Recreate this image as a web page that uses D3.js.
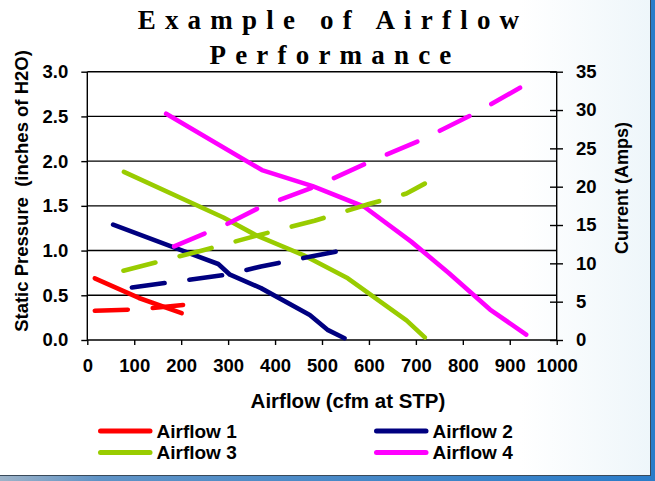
<!DOCTYPE html>
<html>
<head>
<meta charset="utf-8">
<script src="https://cdn.jsdelivr.net/npm/d3@7"></script>
<style>
html,body{margin:0;padding:0;background:#fff;}
svg{display:block;}
text{font-family:"Liberation Sans",Arial,sans-serif;font-weight:bold;fill:#000;}
</style>
</head>
<body>
<script>
// ---- data (cfm, value) ----
const seriesNames = ["Airflow 1", "Airflow 2", "Airflow 3", "Airflow 4"];
const seriesColors = ["#FF0000", "#000080", "#99CC00", "#FF00FF"];
// Static pressure (inches of H2O) vs airflow (cfm)
const pressure1 = [[16,0.69],[110,0.47],[201,0.30]];
const pressure2 = [[55,1.29],[197,1.01],[279,0.85],[304,0.73],[370,0.58],[474,0.28],[513,0.11],[548,0.02]];
const pressure3 = [[78,1.88],[290,1.37],[360,1.17],[460,0.95],[555,0.69],[680,0.22],[719,0.03]];
const pressure4 = [[168,2.53],[372,1.90],[480,1.72],[590,1.49],[690,1.10],[770,0.75],[858,0.34],[935,0.06]];
// Current (Amps) vs airflow (cfm)
const current1 = [[16,3.82],[110,4.0],[204,4.57]];
const current2 = [[95,6.85],[300,8.55],[370,9.6],[548,11.75]];
const current3 = [[77,9.04],[243,11.65],[357,13.55],[484,15.56],[600,17.74],[680,19.1],[719,20.4]];
const current4 = [[185,12.2],[300,15.2],[371,17.4],[485,20.0],[600,23.2],[715,26.2],[830,29.7],[936,33.4]];
// tick values
const xTicks = [0,100,200,300,400,500,600,700,800,900,1000];
const yLeftTicks = [0,0.5,1.0,1.5,2.0,2.5,3.0];
const yRightTicks = [0,5,10,15,20,25,30,35];
const titleLines = ["Example of Airflow", "Performance"];

const W = 655, H = 481;
const svg = d3.select("body").append("svg").attr("width", W).attr("height", H);

// background / frame
const defs = svg.append("defs");
const g1 = defs.append("linearGradient").attr("id","rg").attr("x1","0").attr("x2","1").attr("y1","0").attr("y2","0");
g1.append("stop").attr("offset","0").attr("stop-color","#ffffff");
g1.append("stop").attr("offset","1").attr("stop-color","#eef6fa");
const g2 = defs.append("linearGradient").attr("id","bg").attr("x1","0").attr("x2","1").attr("y1","0").attr("y2","0");
g2.append("stop").attr("offset","0").attr("stop-color","#9db3c8");
g2.append("stop").attr("offset","0.15").attr("stop-color","#5f93c6");
g2.append("stop").attr("offset","1").attr("stop-color","#2a7cc9");
svg.append("rect").attr("x",0).attr("y",0).attr("width",W).attr("height",H).attr("fill","#fff");
svg.append("rect").attr("x",520).attr("y",0).attr("width",131).attr("height",476).attr("fill","url(#rg)");
svg.append("rect").attr("x",651).attr("y",0).attr("width",4).attr("height",H).attr("fill","#2a7cc9");
svg.append("rect").attr("x",0).attr("y",476).attr("width",W).attr("height",5).attr("fill","url(#bg)");
svg.append("line").attr("x1",650.5).attr("x2",650.5).attr("y1",0).attr("y2",476).attr("stroke","#3a4a5a").attr("stroke-width",1);
svg.append("line").attr("x1",0).attr("x2",651).attr("y1",475.5).attr("y2",475.5).attr("stroke","#3a4a5a").attr("stroke-width",1);

// scales
const pLeft = 87.3, pRight = 556.7, pTop = 71.7, pBottom = 340;
const x = d3.scaleLinear().domain([0,1000]).range([pLeft,pRight]);
const yL = d3.scaleLinear().domain([0,3]).range([pBottom,pTop]);
const yR = d3.scaleLinear().domain([0,35]).range([pBottom,pTop]);

// title
const title = svg.append("text")
  .attr("text-anchor","middle")
  .style("font-family","'Liberation Serif','Times New Roman',serif")
  .style("font-size","27px")
  .style("letter-spacing","9.2px");
title.append("tspan").attr("x",333).attr("y",28.5).text(titleLines[0]);
title.append("tspan").attr("x",335).attr("y",63.5).text(titleLines[1]);

// gridlines
svg.append("g").selectAll("line").data(yLeftTicks.filter(d=>d>0)).join("line")
  .attr("x1",pLeft).attr("x2",pRight)
  .attr("y1",d=>yL(d)).attr("y2",d=>yL(d))
  .attr("stroke","#000").attr("stroke-width",1.4);

// axes
const fs = "18.5px";
const ax = svg.append("g").attr("transform",`translate(0,${pBottom})`)
  .call(d3.axisBottom(x).tickValues(xTicks).tickSize(5).tickPadding(14).tickFormat(d3.format("d")));
const ayl = svg.append("g").attr("transform",`translate(${pLeft},0)`)
  .call(d3.axisLeft(yL).tickValues(yLeftTicks).tickSize(6).tickPadding(13).tickFormat(d3.format(".1f")));
const ayr = svg.append("g").attr("transform",`translate(${pRight},0)`)
  .call(d3.axisRight(yR).tickValues(yRightTicks).tickSize(6.3).tickPadding(13).tickFormat(d3.format("d")));
ayr.selectAll(".tick line").attr("x1",-6.7);
[ax,ayl,ayr].forEach(a=>{
  a.attr("font-family",null).attr("font-size",null);
  a.select(".domain").remove();
  a.selectAll(".tick line").attr("stroke","#000").attr("stroke-width",1.4);
  a.selectAll(".tick text").style("font-size",fs).attr("fill","#000");
});
// axis lines
svg.append("line").attr("x1",pLeft).attr("x2",pLeft).attr("y1",pTop).attr("y2",pBottom).attr("stroke","#000").attr("stroke-width",1.4);
svg.append("line").attr("x1",pRight).attr("x2",pRight).attr("y1",pTop).attr("y2",pBottom).attr("stroke","#000").attr("stroke-width",1.4);
svg.append("line").attr("x1",pLeft).attr("x2",pRight).attr("y1",pBottom).attr("y2",pBottom).attr("stroke","#000").attr("stroke-width",1.4);

// axis titles
svg.append("text").attr("transform","translate(28,191) rotate(-90)").attr("text-anchor","middle")
  .style("font-size","18.5px").attr("xml:space","preserve").text("Static Pressure  (inches of H2O)");
svg.append("text").attr("transform","translate(628,188) rotate(-90)").attr("text-anchor","middle")
  .style("font-size","18px").text("Current (Amps)");
svg.append("text").attr("x",348).attr("y",408).attr("text-anchor","middle")
  .style("font-size","20.5px").text("Airflow (cfm at STP)");

// data lines
const lineL = d3.line().x(d=>x(d[0])).y(d=>yL(d[1]));
const lineR = d3.line().x(d=>x(d[0])).y(d=>yR(d[1]));
const pressures = [pressure1,pressure2,pressure3,pressure4];
const currents = [current1,current2,current3,current4];
const plot = svg.append("g");
pressures.forEach((p,i)=>{
  plot.append("path").attr("d",lineL(p)).attr("fill","none")
    .attr("stroke",seriesColors[i]).attr("stroke-width",4.6)
    .attr("stroke-linejoin","round").attr("stroke-linecap","round");
});
currents.forEach((c,i)=>{
  plot.append("path").attr("d",lineR(c)).attr("fill","none")
    .attr("stroke",seriesColors[i]).attr("stroke-width",4.6)
    .attr("stroke-dasharray","33,25")
    .attr("stroke-linejoin","round").attr("stroke-linecap","round");
});

// legend
const legX = [98, 374], legY = [431, 452.5];
seriesNames.forEach((n,i)=>{
  const lx = legX[i%2], ly = legY[Math.floor(i/2)];
  svg.append("line").attr("x1",lx+2.5).attr("x2",lx+52).attr("y1",ly).attr("y2",ly)
    .attr("stroke",seriesColors[i]).attr("stroke-width",5).attr("stroke-linecap","round");
  svg.append("text").attr("x",lx+58.5).attr("y",ly+6.8).style("font-size","19px").text(n);
});
</script>
</body>
</html>
